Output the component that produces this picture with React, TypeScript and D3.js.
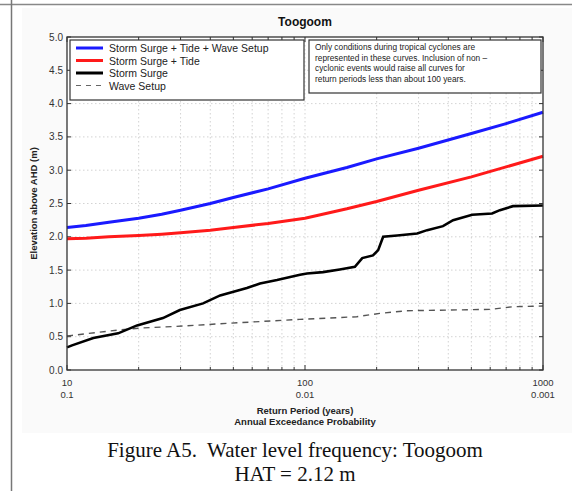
import React from "react";
import * as d3 from "d3";

const returnPeriods = [10, 12, 15, 20, 25, 30, 40, 50, 70, 100, 150, 200, 300, 500, 700, 1000];
const surgeTideWave = [2.14, 2.17, 2.22, 2.28, 2.34, 2.4, 2.5, 2.59, 2.72, 2.88, 3.04, 3.17, 3.33, 3.55, 3.7, 3.87];
const surgeTide = [1.97, 1.98, 2.0, 2.02, 2.04, 2.06, 2.1, 2.14, 2.2, 2.28, 2.42, 2.53, 2.7, 2.9, 3.05, 3.21];

const surgeT = [10, 10.5, 12.9, 16.4, 19.7, 25.3, 29.8, 37.3, 44, 57, 64.7, 76.3, 95.3, 102, 119, 140, 162, 174, 193, 203, 213, 244, 296, 326, 380, 419, 504, 611, 659, 748, 1000];
const surgeVal = [0.34, 0.37, 0.48, 0.55, 0.67, 0.78, 0.9, 1.0, 1.12, 1.23, 1.3, 1.35, 1.43, 1.45, 1.47, 1.51, 1.55, 1.68, 1.72, 1.8, 2.0, 2.02, 2.05, 2.1, 2.16, 2.25, 2.33, 2.35, 2.4, 2.46, 2.47];

const waveT = [10, 10.5, 16.4, 20.3, 30.7, 46.9, 95, 165, 206, 267, 600, 748, 1000];
const waveVal = [0.51, 0.52, 0.6, 0.63, 0.66, 0.7, 0.76, 0.8, 0.85, 0.89, 0.91, 0.95, 0.96];

const yTicks = [0, 0.5, 1, 1.5, 2, 2.5, 3, 3.5, 4, 4.5, 5];
const xMajor = [10, 100, 1000];
const xMajorAep = ["0.1", "0.01", "0.001"];
const xMinor = [20, 30, 40, 50, 60, 70, 80, 90, 200, 300, 400, 500, 600, 700, 800, 900];

const legendLabels = ["Storm Surge + Tide + Wave Setup", "Storm Surge + Tide", "Storm Surge", "Wave Setup"];
const noteLines = [
  "Only conditions during tropical cyclones are",
  "represented in these curves. Inclusion of non –",
  "cyclonic events would raise all curves for",
  "return periods less than about 100 years.",
];

export default function App() {
  const L = 67, R = 543, T = 37, B = 370;
  const x = d3.scaleLog().domain([10, 1000]).range([L, R]);
  const y = d3.scaleLinear().domain([0, 5]).range([B, T]);
  const line = (xs: number[], ys: number[]) =>
    d3.line<number>().x((_, i) => x(xs[i])).y((v) => y(v))(ys) as string;
  const font = "Liberation Sans, Arial, sans-serif";

  const legendStyles = [
    { stroke: "#1a1aff", w: 3, dash: undefined as string | undefined },
    { stroke: "#ff1a1a", w: 3, dash: undefined },
    { stroke: "#000", w: 3, dash: undefined },
    { stroke: "#666", w: 1.2, dash: "5,5" },
  ];

  return (
    <svg width={579} height={491} style={{ position: "absolute", left: 0, top: 0, background: "#fff" }} fontFamily={font}>
      {/* page decorations */}
      <rect x={22} y={8} width={550} height={425} fill="#fafafa" />
      <line x1={0} y1={4.5} x2={572} y2={4.5} stroke="#888" strokeWidth={1.5} />
      <line x1={11.5} y1={0} x2={11.5} y2={491} stroke="#777" strokeWidth={1.5} />

      <rect x={L} y={T} width={R - L} height={B - T} fill="#fff" />
      {/* grid */}
      {yTicks.slice(1, -1).map((t) => (
        <line key={"gy" + t} x1={L} x2={R} y1={y(t)} y2={y(t)} stroke="#c8c8c8" strokeWidth={0.8} strokeDasharray="1.5,2.5" />
      ))}
      {[...xMinor, 100].map((t) => (
        <line key={"gx" + t} x1={x(t)} x2={x(t)} y1={T} y2={B} stroke="#c8c8c8" strokeWidth={0.8} strokeDasharray="1.5,2.5" />
      ))}
      {/* ticks */}
      {yTicks.map((t) => (
        <g key={"ty" + t}>
          <line x1={L} x2={L + 4} y1={y(t)} y2={y(t)} stroke="#333" />
          <line x1={R} x2={R - 4} y1={y(t)} y2={y(t)} stroke="#333" />
          <text x={L - 4} y={y(t) + 3.5} textAnchor="end" fontSize={10} fill="#333">{t.toFixed(1)}</text>
        </g>
      ))}
      {xMinor.map((t) => (
        <g key={"tx" + t}>
          <line x1={x(t)} x2={x(t)} y1={B} y2={B - 3} stroke="#333" />
          <line x1={x(t)} x2={x(t)} y1={T} y2={T + 3} stroke="#333" />
        </g>
      ))}
      {xMajor.map((t, i) => (
        <g key={"tm" + t}>
          <line x1={x(t)} x2={x(t)} y1={B} y2={B - 5} stroke="#333" />
          <line x1={x(t)} x2={x(t)} y1={T} y2={T + 5} stroke="#333" />
          <text x={x(t)} y={B + 16} textAnchor="middle" fontSize={9.5} fill="#333">{t}</text>
          <text x={x(t)} y={B + 28} textAnchor="middle" fontSize={9.5} fill="#333">{xMajorAep[i]}</text>
        </g>
      ))}

      {/* curves */}
      <path d={line(waveT, waveVal)} fill="none" stroke="#555" strokeWidth={1.4} strokeDasharray="6,5" />
      <path d={line(surgeT, surgeVal)} fill="none" stroke="#000" strokeWidth={2.6} />
      <path d={line(returnPeriods, surgeTide)} fill="none" stroke="#ff1a1a" strokeWidth={3} />
      <path d={line(returnPeriods, surgeTideWave)} fill="none" stroke="#1a1aff" strokeWidth={3} />

      {/* frame */}
      <rect x={L} y={T} width={R - L} height={B - T} fill="none" stroke="#333" strokeWidth={1.3} />

      {/* legend */}
      <rect x={70} y={40} width={234} height={60} fill="#fff" stroke="#333" strokeWidth={1.2} />
      {legendLabels.map((lab, i) => (
        <g key={lab}>
          <line x1={76} x2={103} y1={48 + i * 12.5} y2={48 + i * 12.5} stroke={legendStyles[i].stroke} strokeWidth={legendStyles[i].w} strokeDasharray={legendStyles[i].dash} />
          <text x={109} y={52 + i * 12.5} fontSize={10.5} fill="#222">{lab}</text>
        </g>
      ))}

      {/* note */}
      <rect x={309} y={40} width={232} height={53} fill="#fff" stroke="#333" strokeWidth={1.2} />
      {noteLines.map((ln, i) => (
        <text key={i} x={315} y={50 + i * 10.5} fontSize={8.3} fill="#222">{ln}</text>
      ))}

      {/* titles */}
      <text x={305} y={26} textAnchor="middle" fontSize={12} fontWeight="bold" fill="#111">Toogoom</text>
      <text transform={`translate(37,${(T + B) / 2}) rotate(-90)`} textAnchor="middle" fontSize={9.5} fontWeight="bold" fill="#222">Elevation above AHD (m)</text>
      <text x={305} y={414} textAnchor="middle" fontSize={9.5} fontWeight="bold" fill="#222">Return Period (years)</text>
      <text x={305} y={425} textAnchor="middle" fontSize={9.5} fontWeight="bold" fill="#222">Annual Exceedance Probability</text>

      {/* caption */}
      <text x={295} y={457} textAnchor="middle" fontSize={21} fontFamily="Liberation Serif, Times New Roman, serif" fill="#111" xmlSpace="preserve">Figure A5.  Water level frequency: Toogoom</text>
      <text x={295} y={481} textAnchor="middle" fontSize={21} fontFamily="Liberation Serif, Times New Roman, serif" fill="#111">HAT = 2.12 m</text>
    </svg>
  );
}
